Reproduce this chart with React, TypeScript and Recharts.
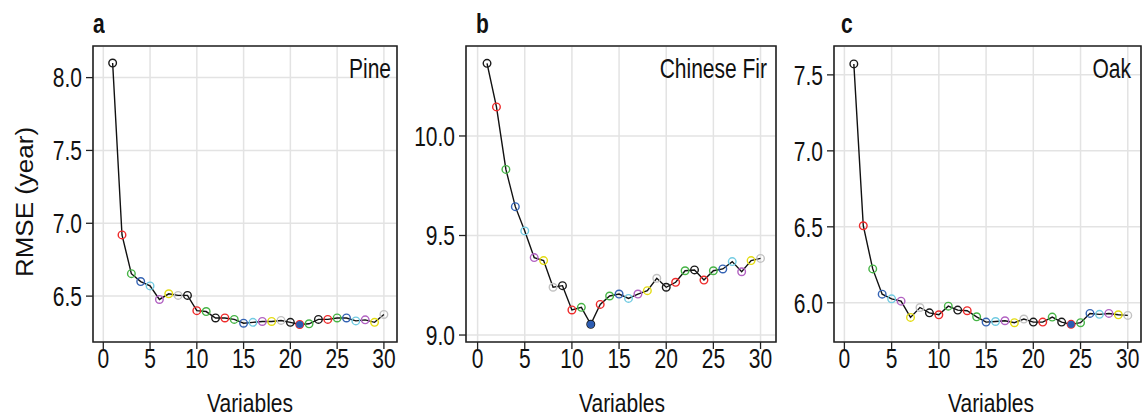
import React from "react";
import {
  LineChart,
  Line,
  XAxis,
  YAxis,
  CartesianGrid,
  ReferenceArea,
} from "recharts";

// number of variables kept in the model
const variables = [
  1, 2, 3, 4, 5, 6, 7, 8, 9, 10, 11, 12, 13, 14, 15, 16, 17, 18, 19, 20, 21, 22,
  23, 24, 25, 26, 27, 28, 29, 30,
];

const pineRmse = [
  8.1, 6.92, 6.654, 6.6, 6.57, 6.477, 6.516, 6.505, 6.505, 6.4, 6.394, 6.35,
  6.35, 6.34, 6.314, 6.32, 6.326, 6.326, 6.333, 6.32, 6.305, 6.31, 6.34, 6.34,
  6.35, 6.35, 6.33, 6.337, 6.32, 6.374,
];

const firRmse = [
  10.365, 10.146, 9.832, 9.645, 9.523, 9.389, 9.374, 9.24, 9.248, 9.126, 9.139,
  9.054, 9.154, 9.196, 9.206, 9.184, 9.206, 9.223, 9.285, 9.24, 9.265, 9.323,
  9.327, 9.276, 9.323, 9.332, 9.369, 9.318, 9.374, 9.385,
];

const oakRmse = [
  7.572, 6.507, 6.223, 6.057, 6.026, 6.011, 5.904, 5.969, 5.934, 5.921, 5.978,
  5.952, 5.948, 5.908, 5.873, 5.877, 5.882, 5.869, 5.893, 5.873, 5.873, 5.906,
  5.873, 5.858, 5.869, 5.93, 5.924, 5.93, 5.921, 5.917,
];

// outline colour of each point (same order in all three panels)
const pointColors = [
  "black", "red", "green", "blue", "cyan", "magenta", "yellow", "gray",
  "black", "red", "green", "black", "red", "green", "blue", "cyan",
  "magenta", "yellow", "gray", "black", "red", "green", "black", "red",
  "green", "blue", "cyan", "magenta", "yellow", "gray",
];

const PALETTE: Record<string, string> = {
  black: "#1a1a1a",
  red: "#ee2a2a",
  green: "#46b446",
  blue: "#3463b4",
  cyan: "#72cbe2",
  magenta: "#b262c2",
  yellow: "#e4dc12",
  gray: "#c2c2c2",
};

const xTicks = [0, 5, 10, 15, 20, 25, 30];
const pineTicks = [6.5, 7.0, 7.5, 8.0];
const firTicks = [9.0, 9.5, 10.0];
const oakTicks = [6.0, 6.5, 7.0, 7.5];

const FONT = '"Liberation Sans", Arial, Helvetica, sans-serif';
// the original figure is squeezed horizontally, so its text looks tall
const STRETCH = 1.3;

const XTick = ({ x, y, payload }: any) => (
  <text
    transform={`translate(${x},${y}) scale(1,${STRETCH})`}
    textAnchor="middle"
    dy={13}
    fontSize={21}
    fontFamily={FONT}
    fill="#111"
  >
    {payload.value}
  </text>
);

const YTick = ({ x, y, payload }: any) => (
  <text
    transform={`translate(${x},${y}) scale(1,${STRETCH})`}
    textAnchor="end"
    dy={7.5}
    fontSize={21}
    fontFamily={FONT}
    fill="#111"
  >
    {Number(payload.value).toFixed(1)}
  </text>
);

const makeDot = (best: number) => (props: any) => {
  const { cx, cy, index } = props;
  const color = PALETTE[pointColors[index]];
  return (
    <g key={`dot-${index}`}>
      <circle cx={cx} cy={cy} r={3.8} fill="none" stroke={color} strokeWidth={1.4} />
      {variables[index] === best && <circle cx={cx} cy={cy} r={3.6} fill="#2c5cb2" />}
    </g>
  );
};

interface PanelProps {
  left: number;
  width: number;
  axisWidth: number;
  rightMargin: number;
  rmse: number[];
  best: number;
  xDomain: [number, number];
  yDomain: [number, number];
  yTicks: number[];
  letter: string;
  species: string;
  letterX: number;
  speciesRight: number;
  titleX: number;
}

function Panel(p: PanelProps) {
  const data = variables.map((v, i) => ({ v, rmse: p.rmse[i] }));
  const txt = {
    position: "absolute" as const,
    fontFamily: FONT,
    lineHeight: 1,
    color: "#111",
    whiteSpace: "nowrap" as const,
  };

  return (
    <div style={{ position: "absolute", left: p.left, top: 0, width: p.width, height: 418 }}>
      <LineChart
        width={p.width}
        height={418}
        data={data}
        margin={{ top: 46, right: p.rightMargin, bottom: 0, left: 0 }}
      >
        <CartesianGrid stroke="#e3e3e3" strokeWidth={1.5} />
        <XAxis
          type="number"
          dataKey="v"
          domain={p.xDomain}
          ticks={xTicks}
          interval={0}
          allowDataOverflow
          axisLine={false}
          tickSize={7}
          tickMargin={2}
          tickLine={{ stroke: "#222", strokeWidth: 1.3 }}
          tick={<XTick />}
          height={76}
        />
        <YAxis
          type="number"
          domain={p.yDomain}
          ticks={p.yTicks}
          interval={0}
          allowDataOverflow
          axisLine={false}
          width={p.axisWidth}
          tickSize={7}
          tickMargin={4}
          tickLine={{ stroke: "#222", strokeWidth: 1.3 }}
          tick={<YTick />}
        />
        <ReferenceArea
          x1={p.xDomain[0]}
          x2={p.xDomain[1]}
          y1={p.yDomain[0]}
          y2={p.yDomain[1]}
          fill="none"
          fillOpacity={0}
          stroke="#222"
          strokeWidth={1.6}
          ifOverflow="visible"
        />
        <Line
          type="linear"
          dataKey="rmse"
          stroke="#111"
          strokeWidth={1.4}
          dot={makeDot(p.best)}
          activeDot={false}
          isAnimationActive={false}
        />
      </LineChart>
      <span
        style={{
          ...txt,
          left: p.letterX,
          top: 13,
          fontSize: 21,
          fontWeight: "bold",
          transform: `scaleY(${STRETCH})`,
        }}
      >
        {p.letter}
      </span>
      <span
        style={{
          ...txt,
          right: p.width - p.speciesRight,
          top: 58,
          fontSize: 21,
          transform: `scaleY(${STRETCH})`,
        }}
      >
        {p.species}
      </span>
      <span
        style={{
          ...txt,
          left: p.titleX,
          top: 403,
          fontSize: 21,
          transform: `translate(-50%, -50%) scaleY(1.25)`,
        }}
      >
        Variables
      </span>
    </div>
  );
}

export default function App() {
  return (
    <div
      style={{
        position: "absolute",
        left: 0,
        top: 0,
        width: 1142,
        height: 418,
        background: "#fff",
        overflow: "hidden",
        fontFamily: FONT,
      }}
    >
      <Panel
        left={0}
        width={400}
        axisWidth={93}
        rightMargin={3}
        rmse={pineRmse}
        best={21}
        xDomain={[-1.1, 31.4]}
        yDomain={[6.185, 8.217]}
        yTicks={pineTicks}
        letter="a"
        species="Pine"
        letterX={93}
        speciesRight={391}
        titleX={250}
      />
      <Panel
        left={400}
        width={380}
        axisWidth={66}
        rightMargin={4}
        rmse={firRmse}
        best={12}
        xDomain={[-1.23, 31.64]}
        yDomain={[8.965, 10.452]}
        yTicks={firTicks}
        letter="b"
        species="Chinese Fir"
        letterX={76}
        speciesRight={367}
        titleX={222}
      />
      <Panel
        left={780}
        width={362}
        axisWidth={54}
        rightMargin={1}
        rmse={oakRmse}
        best={24}
        xDomain={[-1.1, 31.4]}
        yDomain={[5.742, 7.69]}
        yTicks={oakTicks}
        letter="c"
        species="Oak"
        letterX={61}
        speciesRight={351}
        titleX={211}
      />
      <span
        style={{
          position: "absolute",
          left: 25,
          top: 202,
          fontSize: 23,
          lineHeight: 1,
          color: "#111",
          whiteSpace: "nowrap",
          transform: `translate(-50%, -50%) scaleY(1.13) rotate(-90deg)`,
        }}
      >
        RMSE (year)
      </span>
    </div>
  );
}
